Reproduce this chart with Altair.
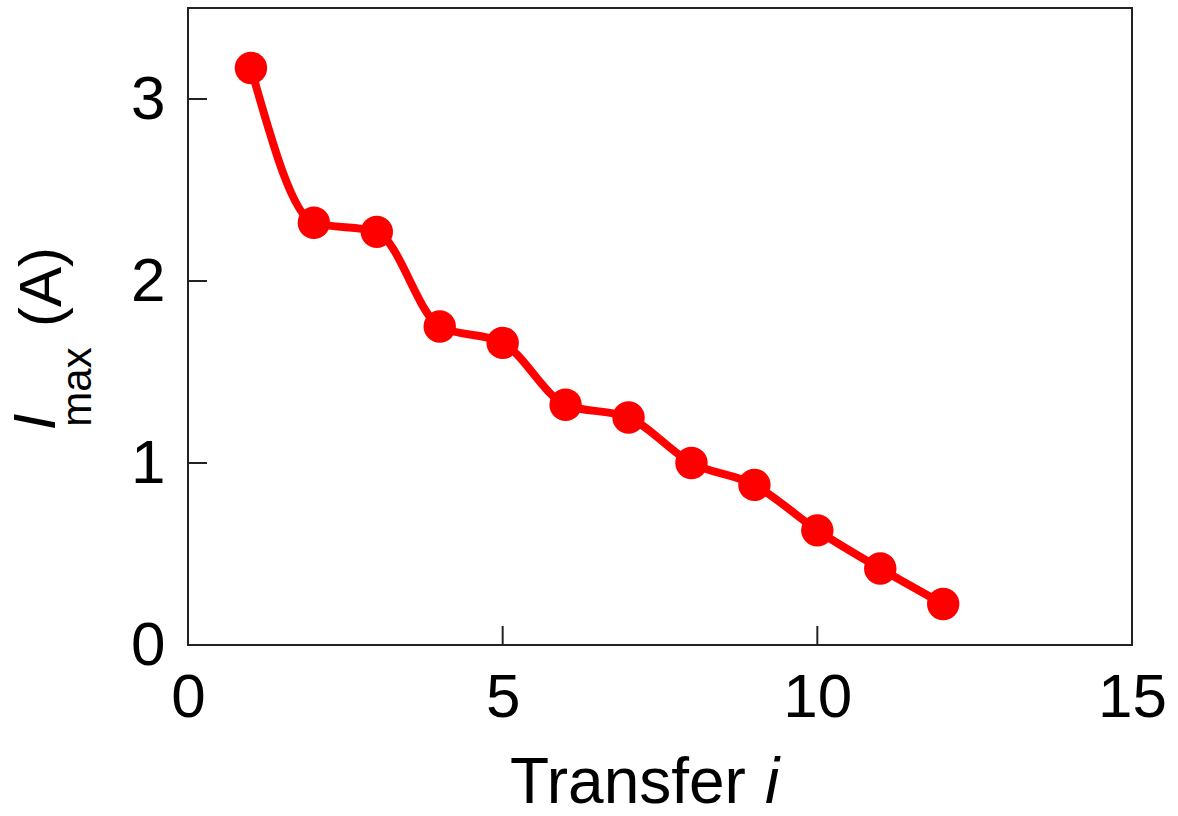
import altair as alt
import pandas as pd

transfer = [1, 2, 3, 4, 5, 6, 7, 8, 9, 10, 11, 12]
imax = [3.17, 2.32, 2.27, 1.75, 1.66, 1.32, 1.25, 1.00, 0.88, 0.63, 0.42, 0.225]
x_ticks = [0, 5, 10, 15]
y_ticks = [0, 1, 2, 3]

FONT = "Liberation Sans"
RED = "#ff0000"
W, H = 944, 637

df = pd.DataFrame({"x": transfer, "y": imax})
xs = alt.Scale(domain=[0, 15], nice=False, zero=False)
ys = alt.Scale(domain=[0, 3.5], nice=False, zero=False)

xaxis = alt.Axis(values=x_ticks, format="d", ticks=False, labelPadding=22, labelFontSize=62,
                 labelFont=FONT, labelColor="black", domain=False, grid=False,
                 title=None, labelFlush=False, labelOverlap=False)
yaxis = alt.Axis(values=y_ticks, format="d", ticks=False, labelPadding=23, labelFontSize=62,
                 labelFont=FONT, labelColor="black", domain=False, grid=False,
                 title=None, labelOverlap=False)

base = alt.Chart(df)
line = base.mark_line(color=RED, strokeWidth=8, interpolate="monotone").encode(
    x=alt.X("x:Q", scale=xs, axis=xaxis),
    y=alt.Y("y:Q", scale=ys, axis=yaxis),
)
pts = base.mark_circle(color=RED, size=1050, opacity=1).encode(
    x=alt.X("x:Q", scale=xs), y=alt.Y("y:Q", scale=ys)
)

xt = alt.Chart(pd.DataFrame({"t": x_ticks})).mark_rule(color="#222", strokeWidth=2).encode(
    x=alt.X("t:Q", scale=xs), y=alt.value(H), y2=alt.value(H - 19)
)
yt = alt.Chart(pd.DataFrame({"t": y_ticks})).mark_rule(color="#222", strokeWidth=2).encode(
    y=alt.Y("t:Q", scale=ys), x=alt.value(0), x2=alt.value(19)
)

one = pd.DataFrame({"a": [0]})
def txt(s, x, y, size, style="normal", angle=0, align="center", baseline="middle"):
    return alt.Chart(one).mark_text(text=s, font=FONT, fontSize=size, fontStyle=style,
                                    angle=angle, align=align, baseline=baseline,
                                    color="black").encode(x=alt.value(x), y=alt.value(y))

titles = [
    txt("Transfer", 322, 776, 64, align="left", baseline="middle"),
    txt("i", 577, 776, 64, style="italic", align="left", baseline="middle"),
    txt("I", -151, 414, 60, style="italic", angle=270),
    txt("max", -110, 379, 42, angle=270),
    txt("(A)", -145, 279, 60, angle=270),
]

chart = alt.layer(line, pts, xt, yt, *titles).properties(
    width=W, height=H,
    background="white",
    autosize=alt.AutoSizeParams(type="none"),
    padding={"left": 188, "top": 8, "right": 46, "bottom": 171},
).configure_view(stroke="#222222", strokeWidth=2)

chart.save("out.html", embed_options={"renderer": "svg", "actions": False})
